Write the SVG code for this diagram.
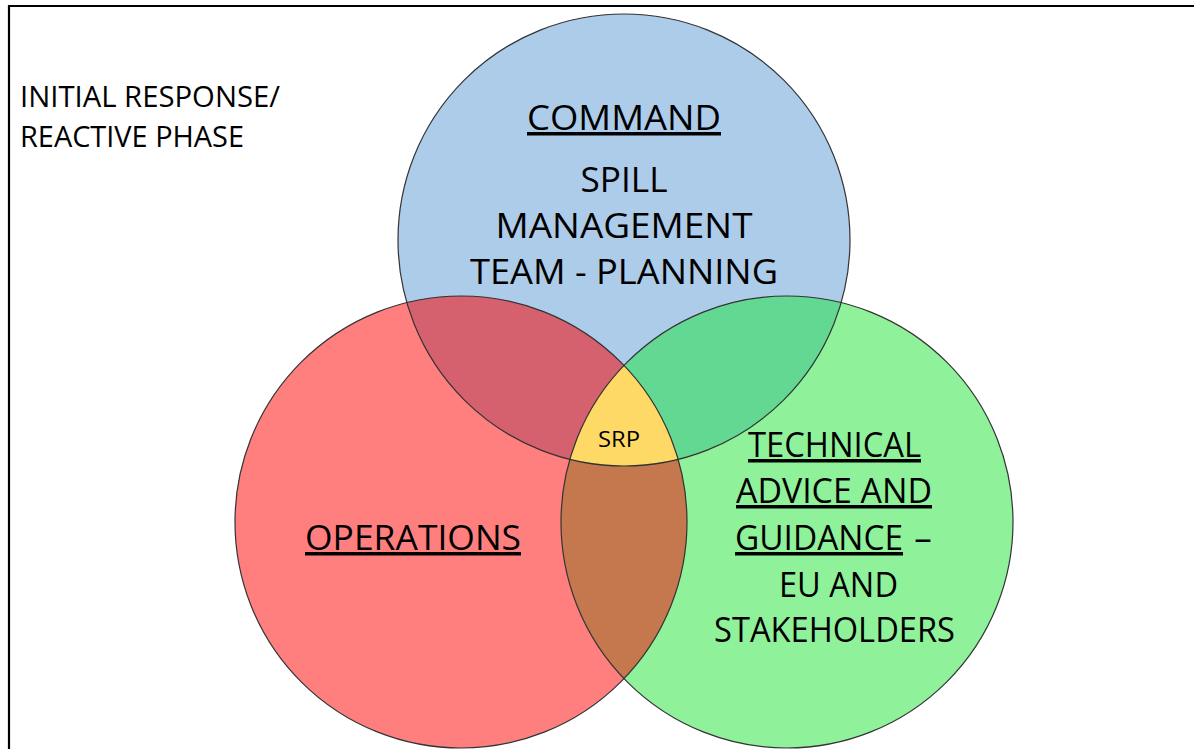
<svg xmlns="http://www.w3.org/2000/svg" width="1194" height="749" viewBox="0 0 1194 749">
<style>
.t{font-family:"Open Sans","Liberation Sans",sans-serif;fill:#000;}
.b{font-size:35px;text-anchor:middle;}
.edge{fill:none;stroke:#333;stroke-width:1.2;}
</style>
<defs>
<clipPath id="cB"><circle cx="624" cy="240" r="226"/></clipPath>
<clipPath id="cR"><circle cx="461" cy="522" r="226"/></clipPath>
</defs>
<rect width="1194" height="749" fill="#fff"/>
<path d="M9,749 V6 H1194" fill="none" stroke="#000" stroke-width="2.2"/>
<text class="t" x="20" y="107" font-size="28.5" textLength="260" lengthAdjust="spacingAndGlyphs">INITIAL RESPONSE/</text>
<text class="t" x="20" y="147" font-size="28.5" textLength="224" lengthAdjust="spacingAndGlyphs">REACTIVE PHASE</text>
<g id="command">
<circle cx="624" cy="240" r="226" fill="#ADCCEA"/>
</g>
<g id="operations">
<circle cx="461" cy="522" r="226" fill="#FF7F7F"/>
</g>
<g id="technical">
<circle cx="787" cy="522" r="226" fill="#8FF29B"/>
</g>
<g id="overlaps">
<g clip-path="url(#cB)"><circle cx="461" cy="522" r="226" fill="#D5616F"/></g>
<g clip-path="url(#cB)"><circle cx="787" cy="522" r="226" fill="#62D893"/></g>
<g clip-path="url(#cR)"><circle cx="787" cy="522" r="226" fill="#C5784E"/></g>
<g clip-path="url(#cB)"><g clip-path="url(#cR)"><circle cx="787" cy="522" r="226" fill="#FFD966"/></g></g>
</g>
<g id="edges">
<circle class="edge" cx="624" cy="240" r="226"/>
<circle class="edge" cx="461" cy="522" r="226"/>
<circle class="edge" cx="787" cy="522" r="226"/>
</g>
<g id="command-text">
<text class="t b" x="624" y="130" text-decoration="underline" textLength="194" lengthAdjust="spacingAndGlyphs">COMMAND</text>
<text class="t b" x="624" y="192" textLength="87" lengthAdjust="spacingAndGlyphs">SPILL</text>
<text class="t b" x="624" y="238" textLength="257" lengthAdjust="spacingAndGlyphs">MANAGEMENT</text>
<text class="t b" x="624" y="284" textLength="308" lengthAdjust="spacingAndGlyphs">TEAM - PLANNING</text>
</g>
<g id="srp">
<text class="t" x="619" y="447" font-size="22" text-anchor="middle" textLength="42" lengthAdjust="spacingAndGlyphs">SRP</text>
</g>
<g id="operations-text">
<text class="t b" x="413" y="550" text-decoration="underline" textLength="216" lengthAdjust="spacingAndGlyphs">OPERATIONS</text>
</g>
<g id="technical-text">
<text class="t b" x="834.5" y="457" text-decoration="underline" textLength="173" lengthAdjust="spacingAndGlyphs">TECHNICAL</text>
<text class="t b" x="834" y="503" text-decoration="underline" textLength="196" lengthAdjust="spacingAndGlyphs">ADVICE AND</text>
<text class="t b" x="819" y="550" text-decoration="underline" textLength="168" lengthAdjust="spacingAndGlyphs">GUIDANCE</text>
<text class="t b" x="923" y="550">–</text>
<text class="t b" x="838.5" y="597" textLength="119" lengthAdjust="spacingAndGlyphs">EU AND</text>
<text class="t b" x="834.5" y="642" textLength="241" lengthAdjust="spacingAndGlyphs">STAKEHOLDERS</text>
</g>
</svg>
